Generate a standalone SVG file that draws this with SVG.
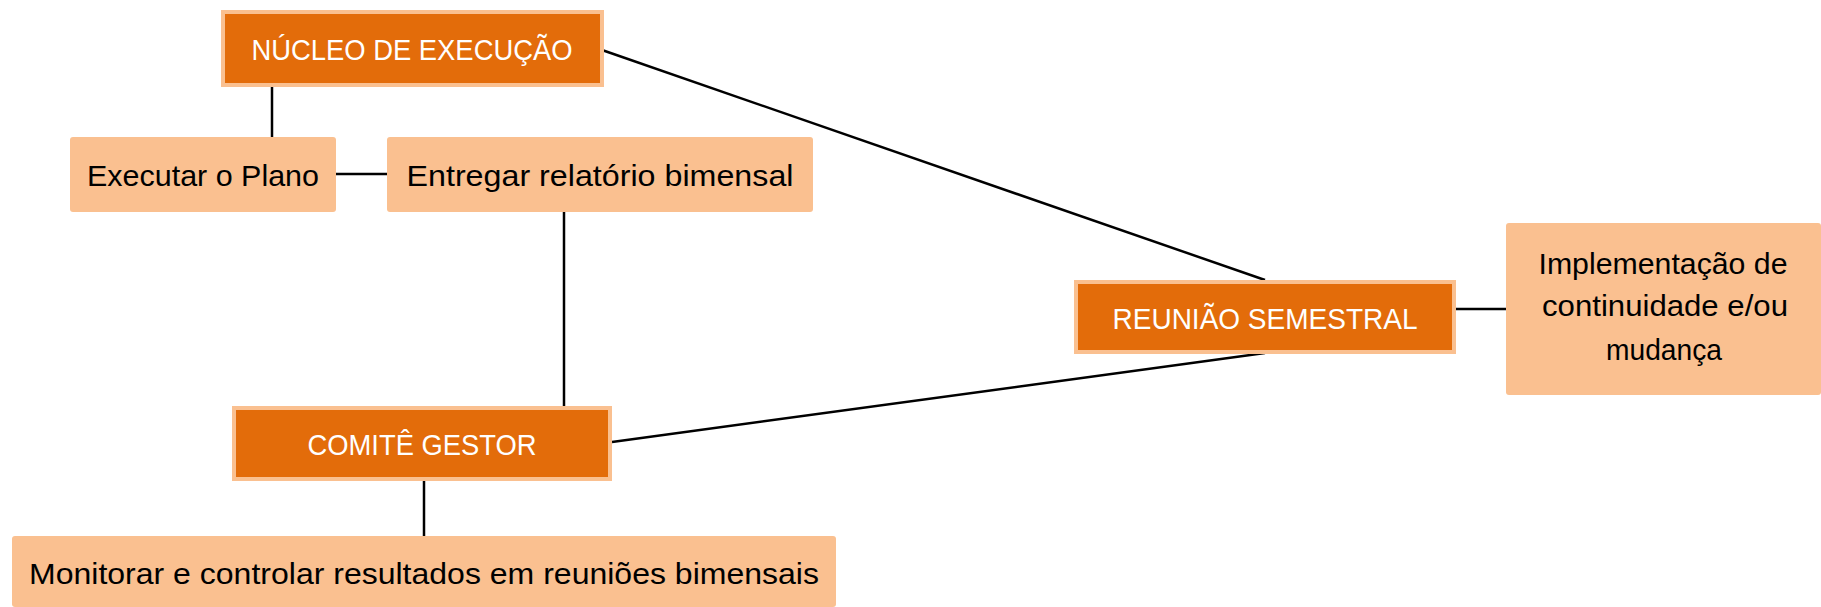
<svg xmlns="http://www.w3.org/2000/svg" width="1821" height="607" viewBox="0 0 1821 607">
<style>
.dark{fill:#E36C0A;stroke:#FAC090;stroke-width:4}
.light{fill:#FAC090}
.t{font-family:"Liberation Sans",Arial,sans-serif;font-size:30px;text-anchor:middle}
.tw{fill:#FFFFFF;font-size:29px}
.tb{fill:#000000}
.c{stroke:#000;stroke-width:2.5;fill:none}
</style>
<rect width="1821" height="607" fill="#FFFFFF"/>
<g id="connectors">
<line class="c" x1="272" y1="87" x2="272" y2="137"/>
<line class="c" x1="336" y1="174" x2="387" y2="174"/>
<line class="c" x1="564" y1="212" x2="564" y2="406"/>
<line class="c" x1="602" y1="50" x2="1265" y2="280"/>
<line class="c" x1="612" y1="442" x2="1265" y2="353"/>
<line class="c" x1="1456" y1="309" x2="1506" y2="309"/>
<line class="c" x1="424" y1="481" x2="424" y2="536"/>
</g>
<g id="nucleo">
<rect class="dark" x="223" y="12" width="379" height="73"/>
<text class="t tw" x="412" y="60" textLength="321" lengthAdjust="spacingAndGlyphs">NÚCLEO DE EXECUÇÃO</text>
</g>
<g id="executar">
<rect class="light" x="70" y="137" width="266" height="75" rx="3"/>
<text class="t tb" x="203" y="186" textLength="232" lengthAdjust="spacingAndGlyphs">Executar o Plano</text>
</g>
<g id="entregar">
<rect class="light" x="387" y="137" width="426" height="75" rx="3"/>
<text class="t tb" x="600" y="186" textLength="387" lengthAdjust="spacingAndGlyphs">Entregar relatório bimensal</text>
</g>
<g id="reuniao">
<rect class="dark" x="1076" y="282" width="378" height="70"/>
<text class="t tw" x="1265" y="329" textLength="305" lengthAdjust="spacingAndGlyphs">REUNIÃO SEMESTRAL</text>
</g>
<g id="implementacao">
<rect class="light" x="1506" y="223" width="315" height="172" rx="3"/>
<text class="t tb" x="1663" y="274" textLength="249" lengthAdjust="spacingAndGlyphs">Implementação de</text>
<text class="t tb" x="1665" y="316" textLength="246" lengthAdjust="spacingAndGlyphs">continuidade e/ou</text>
<text class="t tb" x="1664" y="360" textLength="116" lengthAdjust="spacingAndGlyphs">mudança</text>
</g>
<g id="comite">
<rect class="dark" x="234" y="408" width="376" height="71"/>
<text class="t tw" x="422" y="455" textLength="229" lengthAdjust="spacingAndGlyphs">COMITÊ GESTOR</text>
</g>
<g id="monitorar">
<rect class="light" x="12" y="536" width="824" height="71" rx="3"/>
<text class="t tb" x="424" y="584" textLength="790" lengthAdjust="spacingAndGlyphs">Monitorar e controlar resultados em reuniões bimensais</text>
</g>
</svg>
